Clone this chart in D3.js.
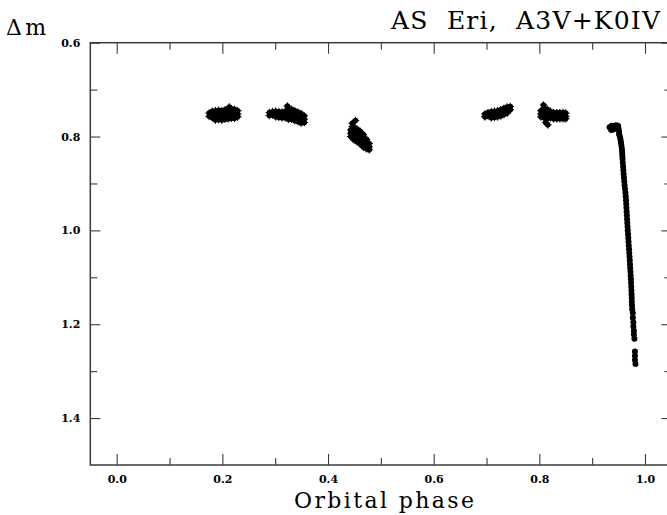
<!DOCTYPE html>
<html>
<head>
<meta charset="utf-8">
<script src="https://cdn.jsdelivr.net/npm/d3@7/dist/d3.min.js"></script>
<style>
  html, body { margin: 0; padding: 0; background: #fff; }
  svg { display: block; }
</style>
</head>
<body>
<svg id="chart" width="667" height="515"></svg>
<script>
// ---------------- DATA (orbital phase, delta m) ----------------
const titleText = "AS  Eri,  A3V+K0IV";
const xLabelText = "Orbital phase";
const yLabelText = "\u0394m";

const xMajorTicks = [0.0, 0.2, 0.4, 0.6, 0.8, 1.0];
const xMinorTicks = [0.1, 0.3, 0.5, 0.7, 0.9];
const yMajorTicks = [0.6, 0.8, 1.0, 1.2, 1.4];
const yMinorTicks = [0.7, 0.9, 1.1, 1.3];

const cluster1 = [
  [0.175,0.750],[0.175,0.757],[0.181,0.746],[0.181,0.753],[0.181,0.760],
  [0.187,0.745],[0.187,0.752],[0.187,0.759],[0.187,0.765],[0.193,0.744],
  [0.193,0.751],[0.193,0.758],[0.193,0.764],[0.199,0.745],[0.199,0.752],
  [0.199,0.759],[0.199,0.765],[0.205,0.743],[0.205,0.750],[0.205,0.757],
  [0.205,0.763],[0.211,0.742],[0.211,0.749],[0.211,0.756],[0.211,0.762],
  [0.217,0.741],[0.217,0.748],[0.217,0.755],[0.217,0.761],[0.223,0.742],
  [0.223,0.749],[0.223,0.756],[0.223,0.761],[0.229,0.745],[0.229,0.752],
  [0.229,0.758],[0.213,0.737]
];
const cluster2 = [
  [0.289,0.749],[0.289,0.755],[0.295,0.747],[0.295,0.754],[0.301,0.746],
  [0.301,0.753],[0.301,0.758],[0.307,0.747],[0.307,0.754],[0.307,0.759],
  [0.313,0.748],[0.313,0.755],[0.313,0.760],[0.319,0.746],[0.319,0.753],
  [0.319,0.760],[0.325,0.743],[0.325,0.750],[0.325,0.757],[0.325,0.763],
  [0.331,0.742],[0.331,0.749],[0.331,0.756],[0.331,0.763],[0.337,0.745],
  [0.337,0.752],[0.337,0.759],[0.337,0.766],[0.343,0.748],[0.343,0.755],
  [0.343,0.762],[0.343,0.768],[0.349,0.751],[0.349,0.758],[0.349,0.765],
  [0.349,0.771],[0.355,0.756],[0.355,0.763],[0.355,0.770],[0.323,0.735]
];
const cluster3 = [
  [0.446,0.772],[0.446,0.779],[0.443,0.786],[0.443,0.793],[0.443,0.800],
  [0.449,0.780],[0.449,0.787],[0.449,0.794],[0.449,0.801],[0.449,0.807],
  [0.455,0.784],[0.455,0.791],[0.455,0.798],[0.455,0.805],[0.455,0.811],
  [0.461,0.789],[0.461,0.796],[0.461,0.803],[0.461,0.810],[0.461,0.816],
  [0.467,0.796],[0.467,0.803],[0.467,0.810],[0.467,0.817],[0.467,0.823],
  [0.473,0.806],[0.473,0.813],[0.473,0.820],[0.473,0.826],[0.478,0.815],
  [0.478,0.822],[0.478,0.828],[0.452,0.766]
];
const cluster4 = [
  [0.697,0.752],[0.697,0.758],[0.703,0.749],[0.703,0.756],[0.709,0.747],
  [0.709,0.754],[0.709,0.760],[0.715,0.746],[0.715,0.753],[0.715,0.759],
  [0.721,0.745],[0.721,0.752],[0.721,0.758],[0.727,0.743],[0.727,0.750],
  [0.727,0.756],[0.733,0.740],[0.733,0.747],[0.733,0.753],[0.739,0.737],
  [0.739,0.744],[0.739,0.750],[0.745,0.736],[0.745,0.743]
];
const cluster5 = [
  [0.803,0.745],[0.803,0.752],[0.803,0.758],[0.809,0.740],[0.809,0.747],
  [0.809,0.754],[0.809,0.760],[0.815,0.742],[0.815,0.749],[0.815,0.756],
  [0.815,0.762],[0.821,0.746],[0.821,0.753],[0.821,0.760],[0.827,0.749],
  [0.827,0.756],[0.827,0.762],[0.833,0.749],[0.833,0.756],[0.833,0.762],
  [0.839,0.749],[0.839,0.756],[0.839,0.762],[0.845,0.749],[0.845,0.756],
  [0.845,0.762],[0.850,0.750],[0.850,0.757],[0.850,0.762],[0.808,0.733],
  [0.812,0.770],[0.816,0.775]
];
const eclipse = [
  [0.933,0.780],[0.937,0.777],[0.941,0.779],[0.945,0.776],[0.949,0.777],
  [0.936,0.786],[0.940,0.785],[0.944,0.783],
  [0.950,0.783],[0.951,0.789],[0.951,0.795],
  [0.9525,0.800],[0.9535,0.806],[0.9545,0.812],[0.9552,0.818],[0.9560,0.824],
  [0.9565,0.830],[0.9569,0.836],[0.9572,0.842],[0.9575,0.848],[0.9580,0.856],
  [0.9586,0.864],[0.9591,0.872],[0.9596,0.880],[0.9602,0.888],[0.9608,0.896],
  [0.9614,0.904],[0.9622,0.912],[0.9630,0.920],[0.9636,0.928],[0.9641,0.936],
  [0.9645,0.944],[0.9649,0.952],[0.9653,0.960],[0.9657,0.968],[0.9661,0.976],
  [0.9665,0.984],[0.9670,0.992],[0.9674,1.000],[0.9679,1.008],[0.9684,1.016],
  [0.9689,1.024],[0.9693,1.032],[0.9698,1.040],[0.9702,1.048],[0.9707,1.056],
  [0.9712,1.064],[0.9716,1.072],[0.9720,1.080],[0.9725,1.088],[0.9729,1.096],
  [0.9733,1.104],[0.9736,1.112],[0.9740,1.120],[0.9743,1.128],[0.9746,1.136],
  [0.9749,1.144],[0.9751,1.152],[0.9754,1.160],[0.9757,1.168],
  [0.977,1.176],[0.977,1.186],[0.978,1.196],[0.978,1.205],[0.979,1.214],
  [0.979,1.222],[0.980,1.231],[0.981,1.258],[0.981,1.267],[0.981,1.276],
  [0.982,1.285]
];

// ---------------- CHART ----------------
const svg = d3.select("#chart");
const pLeft = 90.3, pRight = 671.4, pTop = 42.7, pBottom = 465;
const x = d3.scaleLinear().domain([-0.05, 1.05]).range([pLeft, pRight]);
const y = d3.scaleLinear().domain([0.6, 1.5]).range([pTop, pBottom]);

const lineColor = "#3a3a3a";
const tickFont = "'DejaVu Serif', serif";

function styleAxis(g) {
  g.select(".domain").remove();
  g.selectAll(".tick line").attr("stroke", lineColor).attr("stroke-width", 1.1);
  g.selectAll(".tick text")
    .attr("fill", "#000")
    .style("font-family", tickFont)
    .style("font-weight", "bold")
    .style("font-size", "11px");
}

// bottom
svg.append("g").attr("transform", `translate(0,${pBottom})`)
  .call(d3.axisBottom(x).tickValues(xMajorTicks).tickSize(-11).tickPadding(10)
    .tickFormat(d3.format(".1f"))).call(styleAxis);
svg.append("g").attr("transform", `translate(0,${pBottom})`)
  .call(d3.axisBottom(x).tickValues(xMinorTicks).tickSize(-7).tickFormat("")).call(styleAxis);
// top
svg.append("g").attr("transform", `translate(0,${pTop})`)
  .call(d3.axisTop(x).tickValues(xMajorTicks).tickSize(-11).tickFormat("")).call(styleAxis);
svg.append("g").attr("transform", `translate(0,${pTop})`)
  .call(d3.axisTop(x).tickValues(xMinorTicks).tickSize(-7).tickFormat("")).call(styleAxis);
// left
svg.append("g").attr("transform", `translate(${pLeft},0)`)
  .call(d3.axisLeft(y).tickValues(yMajorTicks).tickSize(-10).tickPadding(10)
    .tickFormat(d3.format(".1f"))).call(styleAxis);
svg.append("g").attr("transform", `translate(${pLeft},0)`)
  .call(d3.axisLeft(y).tickValues(yMinorTicks).tickSize(-7).tickFormat("")).call(styleAxis);
// right
svg.append("g").attr("transform", `translate(${pRight},0)`)
  .call(d3.axisRight(y).tickValues(yMajorTicks).tickSize(-10).tickFormat("")).call(styleAxis);
svg.append("g").attr("transform", `translate(${pRight},0)`)
  .call(d3.axisRight(y).tickValues(yMinorTicks).tickSize(-7).tickFormat("")).call(styleAxis);

// frame
svg.append("rect")
  .attr("x", pLeft).attr("y", pTop)
  .attr("width", pRight - pLeft).attr("height", pBottom - pTop)
  .attr("fill", "none").attr("stroke", lineColor).attr("stroke-width", 1.5);

// data
const plot = svg.append("g");
const clusters = [cluster1, cluster2, cluster3, cluster4, cluster5];
clusters.forEach(c => {
  plot.selectAll(null).data(c).enter().append("circle")
    .attr("cx", d => x(d[0])).attr("cy", d => y(d[1])).attr("r", 2.8)
    .attr("fill", "#000");
  plot.selectAll(null).data(c).enter().append("path")
    .attr("transform", d => `translate(${x(d[0])},${y(d[1])})`)
    .attr("d", "M-3.8,0H3.8M0,-3.8V3.8")
    .attr("stroke", "#000").attr("stroke-width", 1);
});
plot.selectAll(null).data(eclipse).enter().append("circle")
  .attr("cx", d => x(d[0])).attr("cy", d => y(d[1])).attr("r", 3.0)
  .attr("fill", "#000");

// texts
svg.append("text")
  .attr("x", 391).attr("y", 28.5)
  .attr("textLength", 269).attr("lengthAdjust", "spacing")
  .style("font-family", tickFont).style("font-size", "25px")
  .style("white-space", "pre").attr("xml:space", "preserve")
  .attr("fill", "#000")
  .text(titleText);

svg.append("text")
  .attr("x", 6).attr("y", 34.5)
  .attr("textLength", 40).attr("lengthAdjust", "spacing")
  .style("font-family", tickFont).style("font-size", "22px")
  .attr("fill", "#000")
  .text(yLabelText);

svg.append("text")
  .attr("x", 294).attr("y", 508)
  .attr("textLength", 180).attr("lengthAdjust", "spacing")
  .style("font-family", tickFont).style("font-size", "22px")
  .attr("fill", "#000")
  .text(xLabelText);
</script>
</body>
</html>
